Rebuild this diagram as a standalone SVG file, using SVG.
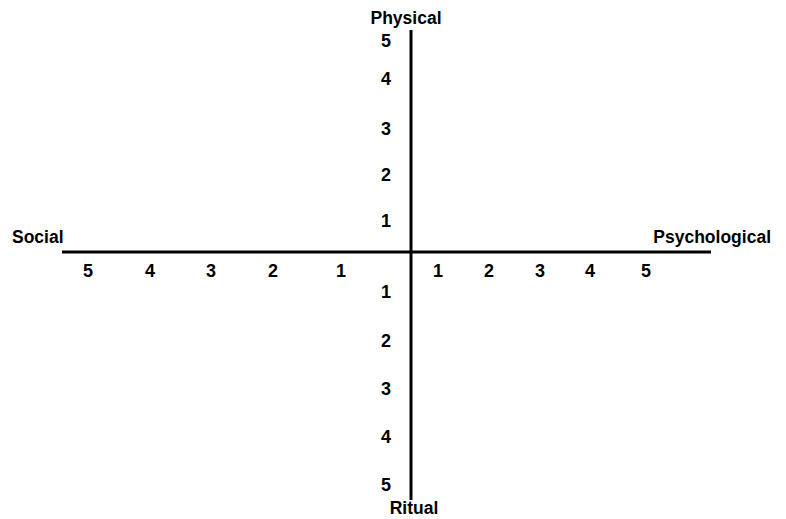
<svg xmlns="http://www.w3.org/2000/svg" width="786" height="519" viewBox="0 0 786 519">
<style>
text{font-family:"Liberation Sans",Arial,sans-serif;font-weight:bold;fill:#000}
.lbl{font-size:17.5px}
.num{font-size:18px;text-anchor:middle}
.ax{stroke:#000;stroke-width:3;fill:none}
</style>
<rect width="786" height="519" fill="#fff"/>
<g id="connectors">
<line class="ax" x1="411" y1="30" x2="411" y2="500"/>
<line class="ax" x1="62" y1="252" x2="711" y2="252"/>
</g>
<g id="labels">
<text class="lbl" x="406" y="24" text-anchor="middle">Physical</text>
<text class="lbl" x="12" y="243">Social</text>
<text class="lbl" x="771" y="243" text-anchor="end">Psychological</text>
<text class="lbl" x="414" y="514" text-anchor="middle">Ritual</text>
</g>
<g id="vertical-ticks">
<text class="num" x="386" y="47">5</text>
<text class="num" x="386" y="85">4</text>
<text class="num" x="386" y="135">3</text>
<text class="num" x="386" y="181">2</text>
<text class="num" x="386" y="227">1</text>
<text class="num" x="386" y="298">1</text>
<text class="num" x="386" y="347">2</text>
<text class="num" x="386" y="395">3</text>
<text class="num" x="386" y="443">4</text>
<text class="num" x="386" y="491">5</text>
</g>
<g id="horizontal-ticks">
<text class="num" x="88" y="277">5</text>
<text class="num" x="150" y="277">4</text>
<text class="num" x="211" y="277">3</text>
<text class="num" x="273" y="277">2</text>
<text class="num" x="341" y="277">1</text>
<text class="num" x="438" y="277">1</text>
<text class="num" x="489" y="277">2</text>
<text class="num" x="540" y="277">3</text>
<text class="num" x="590" y="277">4</text>
<text class="num" x="646" y="277">5</text>
</g>
</svg>
